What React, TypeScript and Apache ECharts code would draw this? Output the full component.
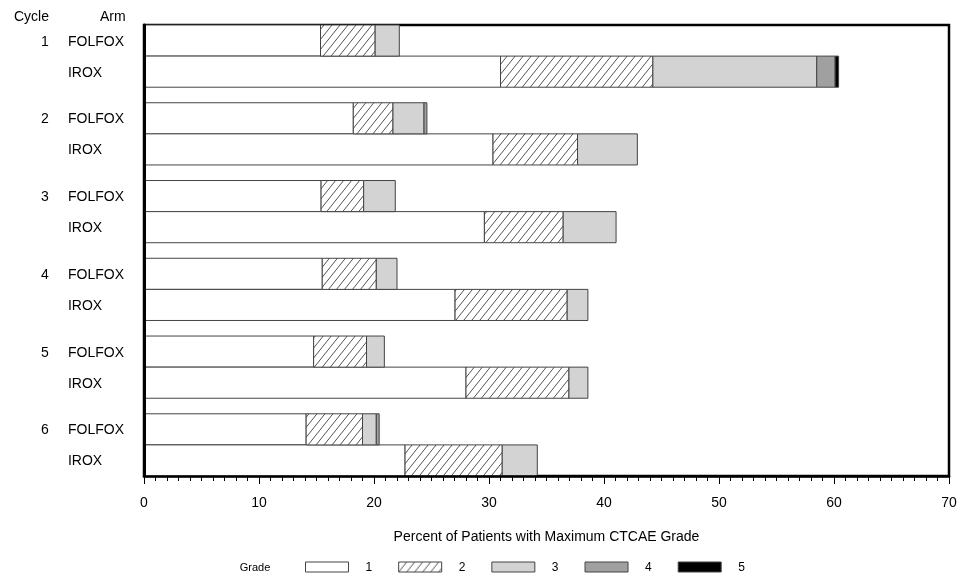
import React, { useEffect, useRef } from 'react';
import * as echarts from 'echarts';

// ---- data (percent of patients by maximum CTCAE grade) ----
const cycles = ['1', '2', '3', '4', '5', '6'];
const arms = ['FOLFOX', 'IROX'];
const grades = ['1', '2', '3', '4', '5'];
// rows ordered: cycle 1 FOLFOX, cycle 1 IROX, cycle 2 FOLFOX, ...
const grade1 = [15.35, 31.0, 18.2, 30.35, 15.4, 29.6, 15.5, 27.05, 14.75, 28.0, 14.1, 22.7];
const grade2 = [4.75, 13.25, 3.45, 7.35, 3.7, 6.85, 4.7, 9.75, 4.6, 8.95, 4.9, 8.45];
const grade3 = [2.1, 14.25, 2.7, 5.2, 2.75, 4.6, 1.8, 1.8, 1.55, 1.65, 1.2, 3.05];
const grade4 = [0, 1.6, 0.25, 0, 0, 0, 0, 0, 0, 0, 0.25, 0];
const grade5 = [0, 0.3, 0, 0, 0, 0, 0, 0, 0, 0, 0, 0];
const gradeValues = [grade1, grade2, grade3, grade4, grade5];

const xMin = 0;
const xMax = 70;
const xInterval = 10;
const xTitle = 'Percent of Patients with Maximum CTCAE Grade';

const CYCLE_STEP = 2.5; // band units per cycle (two bars + gap)
const FONT = "'Liberation Sans', Arial, Helvetica, sans-serif";

function makeHatch(): HTMLCanvasElement {
  const w = 8, h = 10;
  const c = document.createElement('canvas');
  c.width = w;
  c.height = h;
  const ctx = c.getContext('2d')!;
  ctx.fillStyle = '#ffffff';
  ctx.fillRect(0, 0, w, h);
  ctx.strokeStyle = '#555555';
  ctx.lineWidth = 1;
  for (const dx of [-w, 0, w]) {
    ctx.beginPath();
    ctx.moveTo(dx, h);
    ctx.lineTo(dx + w, 0);
    ctx.stroke();
  }
  return c;
}

export default function App() {
  const ref = useRef<HTMLDivElement>(null);
  useEffect(() => {
    if (!ref.current) return;
    const chart = echarts.init(ref.current, null, { renderer: 'svg' });

    const hatch = { image: makeHatch(), repeat: 'repeat' } as any;
    const fills: any[] = ['#ffffff', hatch, '#d3d3d3', '#a0a0a0', '#000000'];
    const stroke = '#444444';

    // row positions along the y value axis
    const rows: { pos: number; cycle: string; arm: string; idx: number }[] = [];
    cycles.forEach((c, ci) => {
      arms.forEach((a, ai) => {
        rows.push({ pos: ci * CYCLE_STEP + ai + 0.5, cycle: ai === 0 ? c : ' ', arm: a, idx: rows.length });
      });
    });
    const yMax = (cycles.length - 1) * CYCLE_STEP + arms.length;

    const series = grades.map((g, gi) => {
      const data: number[][] = [];
      rows.forEach((r) => {
        let start = 0;
        for (let k = 0; k < gi; k++) start += gradeValues[k][r.idx];
        const v = gradeValues[gi][r.idx];
        if (v > 0) data.push([r.pos, start, start + v]);
      });
      return {
        type: 'custom',
        name: g,
        z: 1,
        itemStyle: { color: fills[gi], borderColor: stroke, borderWidth: 1 },
        encode: { x: [1, 2], y: 0 },
        data,
        renderItem: (params: any, api: any) => {
          const y = api.value(0);
          const p0 = api.coord([api.value(1), y]);
          const p1 = api.coord([api.value(2), y]);
          const h = api.size([0, 1])[1];
          return {
            type: 'rect',
            shape: { x: p0[0], y: p0[1] - h / 2, width: p1[0] - p0[0], height: h },
            style: { fill: fills[gi], stroke, lineWidth: 1 },
          };
        },
      };
    });

    chart.setOption({
      animation: false,
      textStyle: { fontFamily: FONT },
      grid: {
        left: 144, right: 11, top: 25, bottom: 105,
        show: true, borderColor: '#000', borderWidth: 2.5, backgroundColor: 'transparent',
      },
      xAxis: {
        type: 'value', min: xMin, max: xMax, interval: xInterval, z: 5,
        axisLine: { show: true, onZero: false, lineStyle: { color: '#000', width: 2.5 } },
        axisTick: { show: true, length: 8, lineStyle: { color: '#000' } },
        minorTick: { show: true, splitNumber: 10, length: 5, lineStyle: { color: '#000' } },
        splitLine: { show: false },
        minorSplitLine: { show: false },
        axisLabel: { fontSize: 14, color: '#000', margin: 19, fontFamily: FONT },
        name: xTitle, nameLocation: 'middle', nameGap: 53,
        nameTextStyle: { fontSize: 14, color: '#000', fontFamily: FONT },
      },
      yAxis: {
        type: 'value', inverse: true, min: 0, max: yMax, interval: 0.5, z: 5,
        axisLine: { show: true, onZero: false, lineStyle: { color: '#000', width: 3 } },
        axisTick: { show: false },
        splitLine: { show: false },
        axisLabel: {
          show: true, align: 'left', margin: 111,
          formatter: (v: number) => {
            const r = rows.find((rr) => Math.abs(rr.pos - v) < 1e-6);
            return r ? `{c|${r.cycle}}{a|${r.arm}}` : '';
          },
          rich: {
            c: { width: 24, align: 'center', fontSize: 14, color: '#000', fontFamily: FONT },
            a: { padding: [0, 0, 0, 11], fontSize: 14, color: '#000', fontFamily: FONT },
          },
        },
      },
      legend: {
        left: 300, top: 556, itemWidth: 43, itemHeight: 10, itemGap: 26,
        icon: 'rect', selectedMode: false,
        textStyle: { fontSize: 12, color: '#000', padding: [0, 0, 0, 12], fontFamily: FONT },
        data: grades.map((g, gi) => ({
          name: g,
          itemStyle: { color: fills[gi], borderColor: stroke, borderWidth: 1 },
        })),
      },
      graphic: [
        { type: 'text', x: 49, y: 16, style: { text: 'Cycle', textAlign: 'right', textVerticalAlign: 'middle', fontSize: 14, fill: '#000', fontFamily: FONT } },
        { type: 'text', x: 100, y: 16, style: { text: 'Arm', textAlign: 'left', textVerticalAlign: 'middle', fontSize: 14, fill: '#000', fontFamily: FONT } },
        { type: 'text', x: 255, y: 567, style: { text: 'Grade', textAlign: 'center', textVerticalAlign: 'middle', fontSize: 11, fill: '#000', fontFamily: FONT } },
      ],
      series,
    });
    return () => chart.dispose();
  }, []);
  return <div ref={ref} style={{ position: 'fixed', left: 0, top: 0, width: 960, height: 581 }} />;
}
